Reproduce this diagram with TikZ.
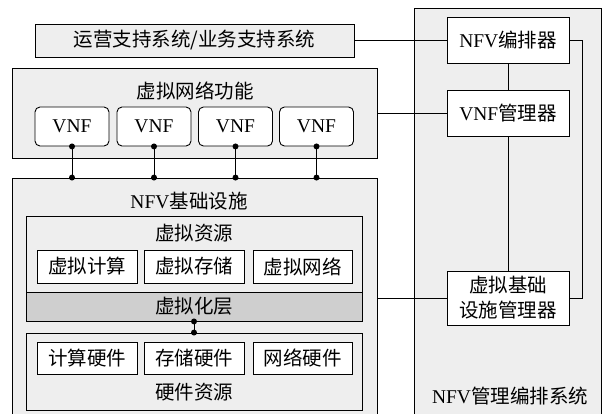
\documentclass[tikz,border=0pt]{standalone}
\usepackage{fontspec}
\setmainfont{Noto Sans CJK SC}
\newfontfamily\lat{Liberation Serif}
\definecolor{panel}{HTML}{EEEEEE}
\definecolor{layer}{HTML}{CFCFCF}

\begin{document}
\begin{tikzpicture}[x=1pt,y=-1pt,line width=0.9pt,
    font=\fontsize{19.5}{23}\selectfont,
    every node/.style={inner sep=0pt},
    cont/.style={draw,fill=panel},
    box/.style={draw,fill=white},
    vnf/.style={box,rounded corners=5pt,minimum width=74pt,minimum height=39pt},
    res/.style={box,minimum height=33pt},
    mano/.style={box,minimum width=122pt,minimum height=46pt,align=center}]
    \clip (0,0) rectangle (602,414);

    % containers
    \node[cont,minimum width=187pt,minimum height=432pt] (mano) at (507.5,224) {};
    \node[cont,minimum width=319pt,minimum height=33pt] (oss) at (194.5,40.5) {运营支持系统/业务支持系统};
    \node[cont,minimum width=365pt,minimum height=90pt] (vnfc) at (194.5,113) {};
    \node[cont,minimum width=365pt,minimum height=262pt] (nfvi) at (194.5,309) {};
    \node[cont,minimum width=336pt,minimum height=105pt] (vres) at (194,268.5) {};
    \node[draw,fill=layer,minimum width=336pt,minimum height=29pt] (virt) at (194,306.5) {虚拟化层};
    \node[cont,minimum width=336pt,minimum height=77pt] (hw) at (194,371.5) {};

    % titles
    \node (vnfctitle) at (195,91) {虚拟网络功能};
    \node (nfvititle) at (189,201) {{\lat NFV}基础设施};
    \node (vrestitle) at (194,233) {虚拟资源};
    \node (hwtitle) at (194,392) {硬件资源};
    \node (manotitle) at (510,396) {{\lat NFV}管理编排系统};

    % VNFs
    \node[vnf] (v1) at (72,126.5) {\lat VNF};
    \node[vnf] (v2) at (154,126.5) {\lat VNF};
    \node[vnf] (v3) at (235.5,126.5) {\lat VNF};
    \node[vnf] (v4) at (316.5,126.5) {\lat VNF};

    % resources
    \node[res,minimum width=100pt] (vc) at (87,266.5) {虚拟计算};
    \node[res,minimum width=100pt] (vs) at (194,266.5) {虚拟存储};
    \node[res,minimum width=99pt] (vn) at (302.5,266.5) {虚拟网络};
    \node[res,minimum width=100pt,minimum height=32pt] (hc) at (87,358) {计算硬件};
    \node[res,minimum width=100pt,minimum height=32pt] (hs) at (194,358) {存储硬件};
    \node[res,minimum width=99pt,minimum height=32pt] (hn) at (302.5,358) {网络硬件};

    % management blocks
    \node[mano] (nfvo) at (508,40) {{\lat NFV}编排器};
    \node[mano] (vnfm) at (508,113) {{\lat VNF}管理器};
    \node[mano,minimum height=54pt,font=\fontsize{19.5}{25}\selectfont] (vim) at (508,298) {虚拟基础\\设施管理器};

    % links
    \foreach \i in {1,...,4} {
        \draw (v\i.south) -- (v\i.south |- nfvi.north);
        \fill (v\i.south) circle (3pt) (v\i.south |- nfvi.north) circle (3pt);
    }
    \draw (virt.south) -- (hw.north);
    \fill (virt.south) circle (3pt) (hw.north) circle (3pt);

    \draw (oss.east) -- (oss.east -| nfvo.west);
    \draw (vnfc.east) -- (vnfm.west);
    \draw (vim.west -| nfvi.east) -- (vim.west);
    \draw (nfvo) -- (vnfm);
    \draw (vnfm) -- (vim);
    \draw (nfvo.east) -- ++(13,0) |- (vim.east);
\end{tikzpicture}
\end{document}
